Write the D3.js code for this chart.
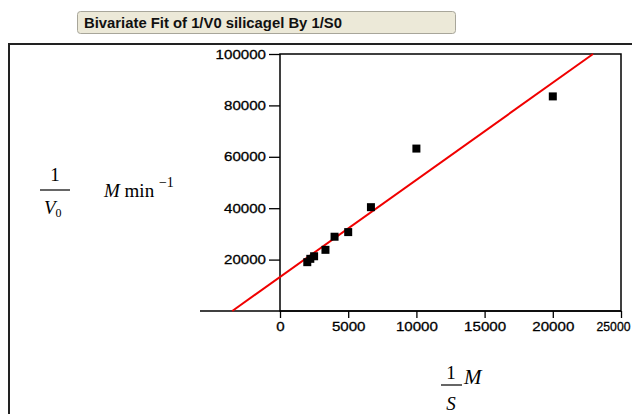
<!DOCTYPE html>
<html><head><meta charset="utf-8">
<script src="https://cdn.jsdelivr.net/npm/d3@7"></script>
<style>body{margin:0;background:#fff}svg{display:block}</style>
</head><body>
<svg id="c" width="632" height="414"></svg>
<script>
const title = "Bivariate Fit of 1/V0 silicagel By 1/S0";
const xValues = [2000, 2222, 2500, 3333, 4000, 5000, 6667, 10000, 20000];
const yValues = [19000, 20300, 21300, 23800, 28900, 30700, 40400, 63200, 83500];
const fitX = [-3500, 22950];
const fitY = [0, 100000];
const xTicks = [0, 5000, 10000, 15000, 20000, 25000];
const yTicks = [20000, 40000, 60000, 80000, 100000];

const svg = d3.select("#c");
// title box
svg.append("rect").attr("x",77.5).attr("y",11.5).attr("width",378).attr("height",22)
  .attr("rx",3).attr("fill","#ECE9D8").attr("stroke","#A8A69A").attr("stroke-width",1);
svg.append("text").attr("x",84).attr("y",27.5).text(title)
  .attr("font-family","Liberation Sans Narrow, Arial Narrow, Liberation Sans, sans-serif").attr("font-weight","bold")
  .attr("font-size",14).attr("fill","#111").attr("textLength",258).attr("lengthAdjust","spacingAndGlyphs");
// outer frame
svg.append("path").attr("d","M9,414V44H632").attr("fill","none").attr("stroke","#222").attr("stroke-width",2);

const x = d3.scaleLinear().domain([0,25000]).range([280,621]);
const y = d3.scaleLinear().domain([0,100000]).range([311,54]);

// plot frame
svg.append("rect").attr("x",280).attr("y",54).attr("width",341).attr("height",257)
  .attr("fill","none").attr("stroke","#000").attr("stroke-width",1.5);
// x axis line extended left
svg.append("line").attr("x1",200).attr("x2",621).attr("y1",311).attr("y2",311).attr("stroke","#000").attr("stroke-width",1.5);

const tickFont = "Liberation Sans Narrow, Arial Narrow, Liberation Sans, sans-serif";
const xa = svg.append("g").attr("transform","translate(0,311)")
  .call(d3.axisBottom(x).tickValues(xTicks).tickFormat(d3.format("d")).tickSize(7).tickPadding(4));
const ya = svg.append("g").attr("transform","translate(280,0)")
  .call(d3.axisLeft(y).tickValues(yTicks).tickFormat(d3.format("d")).tickSize(11).tickPadding(3));
[xa, ya].forEach(a => {
  a.select(".domain").remove();
  a.selectAll("line").attr("stroke","#000").attr("stroke-width",1.3);
  a.selectAll("text").attr("font-family",tickFont).attr("font-size",13).attr("fill","#000")
    .attr("stroke","#000").attr("stroke-width",0.3)
    .attr("textLength",d=>String(d).length*8.4).attr("lengthAdjust","spacingAndGlyphs");
});
// last x label squeezed against the right edge, as in the reference
xa.selectAll(".tick").filter(d=>d===25000).select("text")
  .attr("text-anchor","end").attr("x",9).attr("textLength",34);

// fit line
svg.append("line").attr("x1",x(fitX[0])).attr("y1",y(fitY[0])).attr("x2",x(fitX[1])).attr("y2",y(fitY[1]))
  .attr("stroke","#F00000").attr("stroke-width",2);

// points
svg.append("g").selectAll("rect").data(xValues.map((v,i)=>[v,yValues[i]])).join("rect")
  .attr("x",d=>x(d[0])-4).attr("y",d=>y(d[1])-4).attr("width",8).attr("height",8).attr("fill","#000");

// axis labels (serif math)
const serif = "Liberation Serif, Times New Roman, serif";
const lab = svg.append("g").attr("font-family",serif).attr("fill","#000");
lab.append("text").attr("x",55).attr("y",181).attr("text-anchor","middle").attr("font-size",19).text("1");
lab.append("line").attr("x1",40).attr("x2",70).attr("y1",190).attr("y2",190).attr("stroke","#000").attr("stroke-width",1.2);
const v0 = lab.append("text").attr("x",44).attr("y",214).attr("font-size",19);
v0.append("tspan").attr("font-style","italic").text("V");
v0.append("tspan").attr("font-size",12).attr("dy",3).text("0");
const mm = lab.append("text").attr("x",104).attr("y",197).attr("font-size",19);
mm.append("tspan").attr("font-style","italic").text("M");
mm.append("tspan").text(" min ");
mm.append("tspan").attr("font-size",14).attr("dy",-10).text("\u22121");

lab.append("text").attr("x",451).attr("y",379).attr("text-anchor","middle").attr("font-size",19).text("1");
lab.append("line").attr("x1",441).attr("x2",462).attr("y1",385).attr("y2",385).attr("stroke","#000").attr("stroke-width",1.2);
lab.append("text").attr("x",451).attr("y",410).attr("text-anchor","middle").attr("font-size",19).attr("font-style","italic").text("S");
lab.append("text").attr("x",464).attr("y",384).attr("font-size",21).attr("font-style","italic").text("M");
</script>
</body></html>
